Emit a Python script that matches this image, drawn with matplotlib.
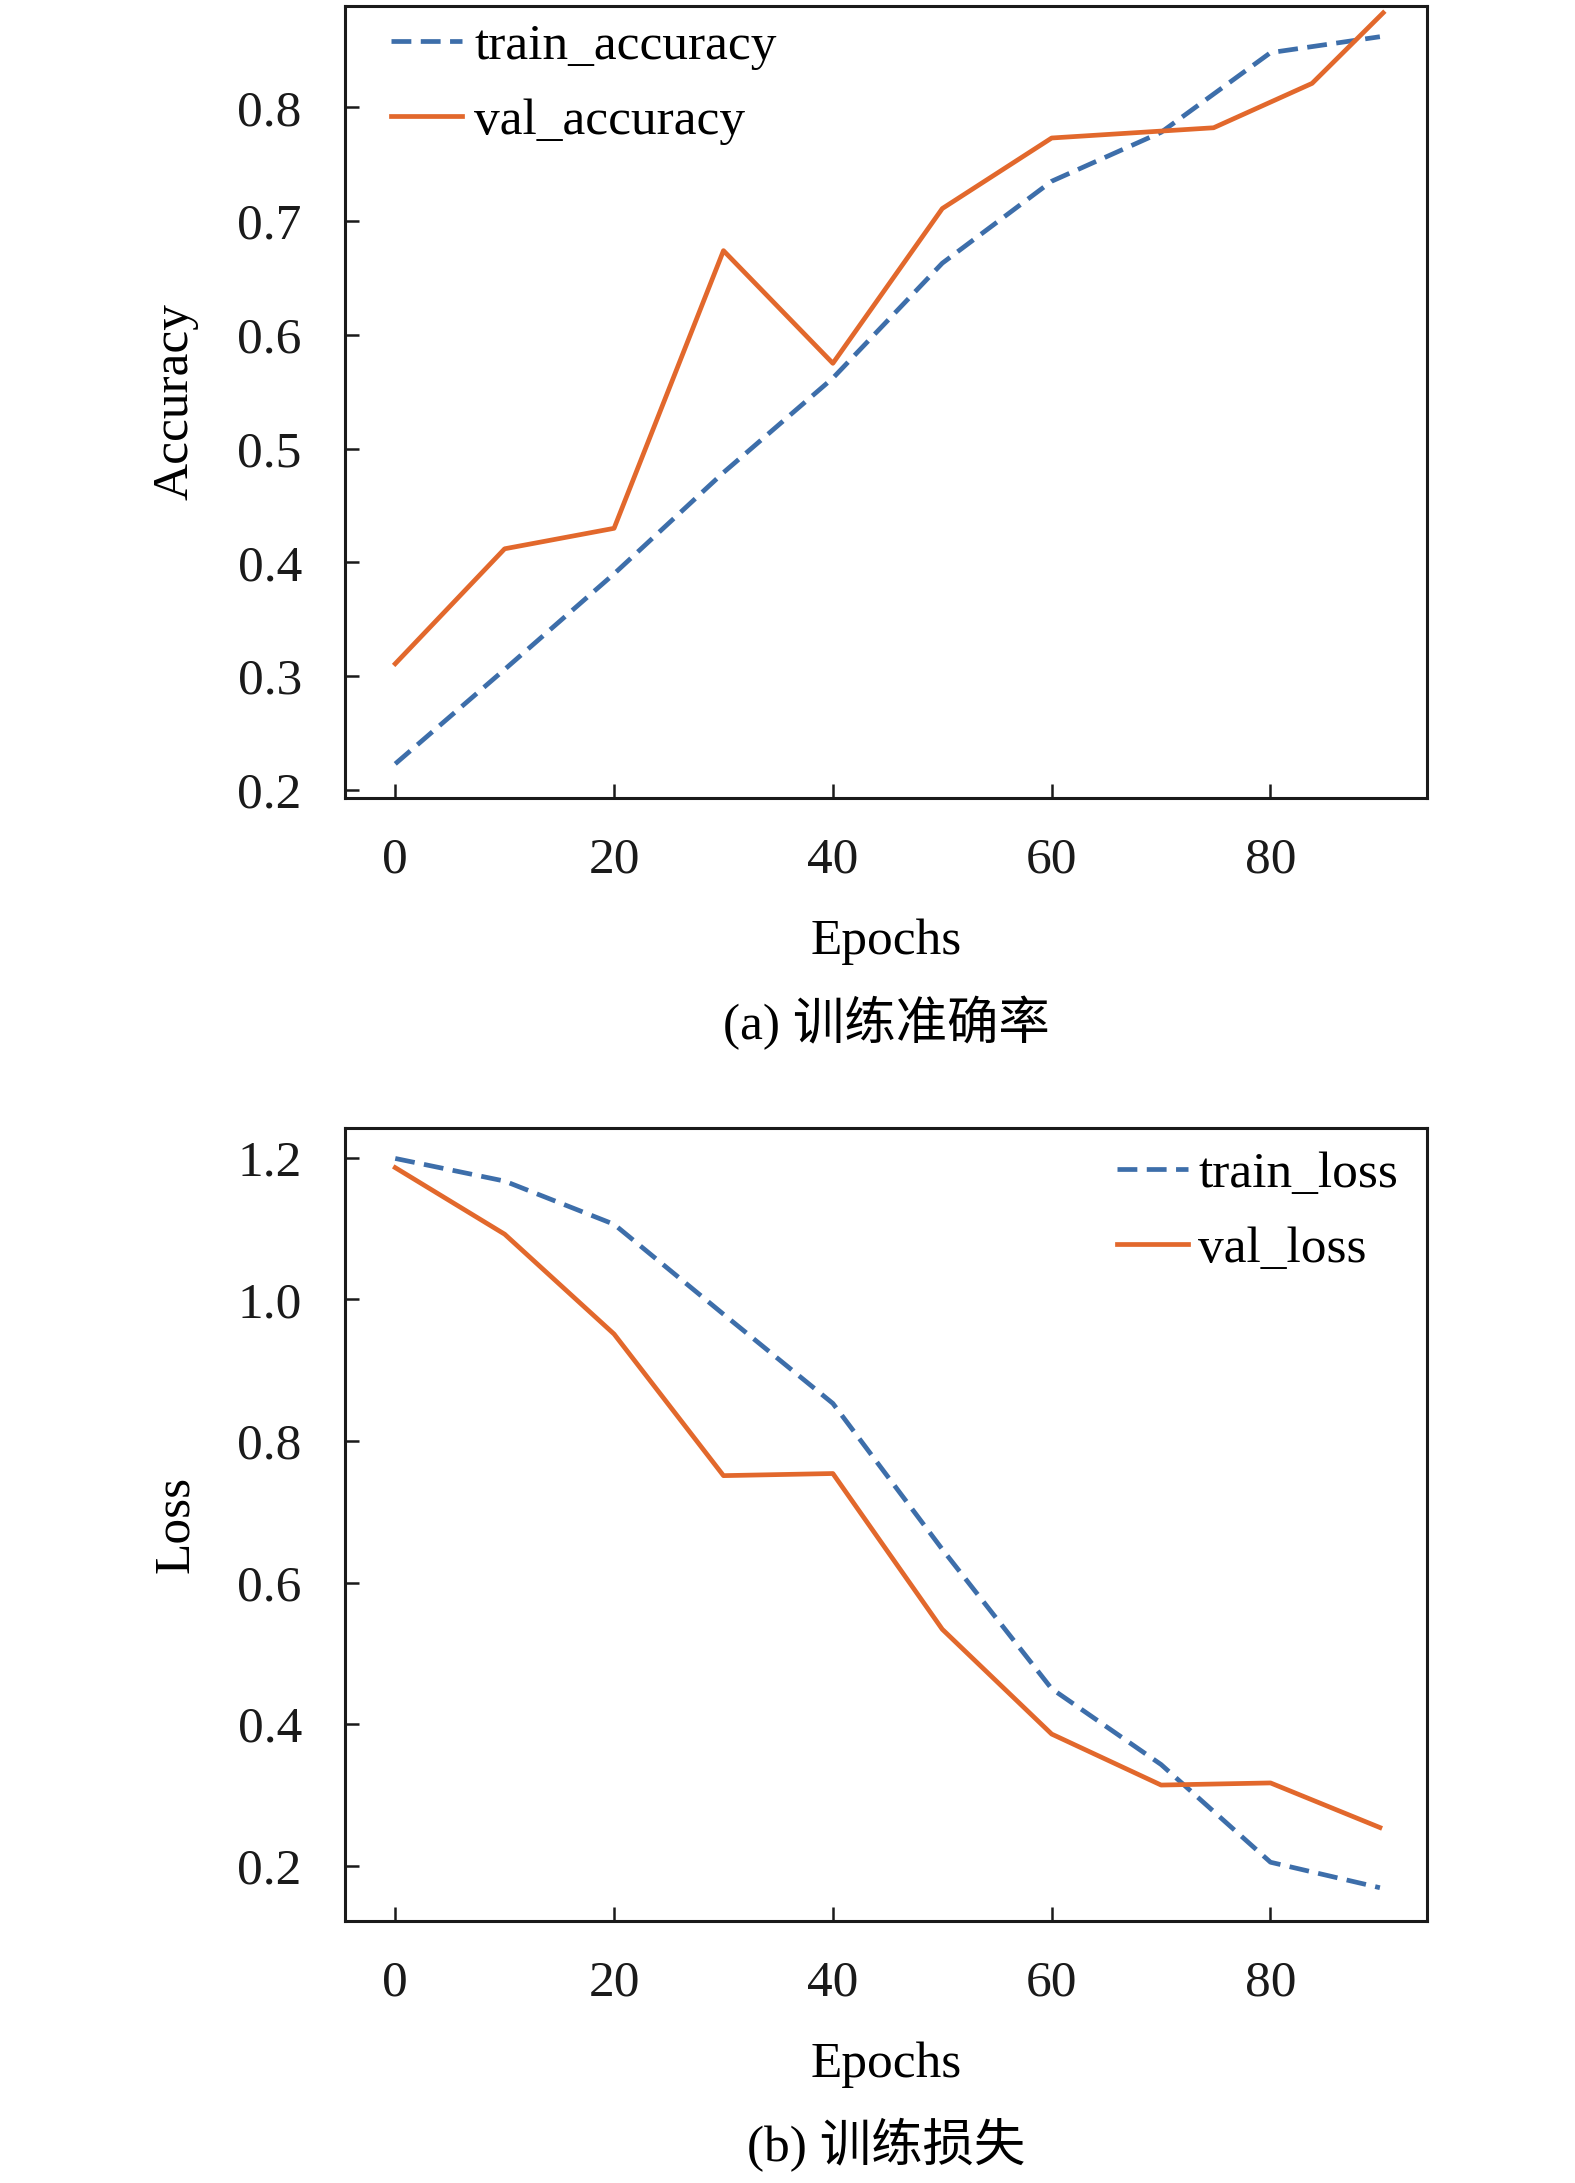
import numpy as np
import matplotlib
matplotlib.use("Agg")
import matplotlib.pyplot as plt

# 字体: 西文 Times 风格, 中文回退到 Noto CJK
plt.rcParams['font.family'] = ['Liberation Serif', 'Noto Sans CJK SC']
plt.rcParams['mathtext.fontset'] = 'stix'

# 数据
epochs = [0, 10, 20, 30, 40, 50, 60, 70, 80, 90]
train_accuracy = [0.223, 0.306, 0.390, 0.479, 0.562, 0.663, 0.735, 0.778, 0.848, 0.862]
val_acc_epochs = [0, 10, 20, 30, 40, 50, 60, 74.8, 83.8, 90.3]
val_accuracy = [0.311, 0.412, 0.430, 0.674, 0.575, 0.711, 0.773, 0.782, 0.821, 0.883]

train_loss = [1.199, 1.167, 1.106, 0.979, 0.853, 0.647, 0.450, 0.343, 0.205, 0.169]
val_loss = [1.186, 1.092, 0.951, 0.751, 0.754, 0.534, 0.386, 0.314, 0.317, 0.254]

acc_ticks = [0.2, 0.3, 0.4, 0.5, 0.6, 0.7, 0.8]
loss_ticks = [0.2, 0.4, 0.6, 0.8, 1.0, 1.2]
epoch_ticks = [0, 20, 40, 60, 80]

BLUE = '#3d6eaa'
ORANGE = '#e2682c'
FS = 37
LW = 3.4
DASH = (0, (4.2, 2))

fig = plt.figure(figsize=(15.75, 21.83), dpi=100)
ax1 = fig.add_axes([0.2190, 0.63445, 0.6870, 0.3628])
ax2 = fig.add_axes([0.2190, 0.12002, 0.6870, 0.36326])


def style_axes(ax):
    for s in ax.spines.values():
        s.set_linewidth(2.2)
        s.set_color('#1a1a1a')
    ax.tick_params(direction='in', length=10, width=1.8, labelsize=FS,
                   colors='#1a1a1a')
    ax.tick_params(axis='y', pad=31)
    ax.tick_params(axis='x', pad=28)
    ax.set_xlim(-4.6, 94.3)
    ax.set_xticks(epoch_ticks)


# (a) 准确率
ax1.plot(epochs, train_accuracy, color=BLUE, lw=LW, ls=DASH, label='train_accuracy')
ax1.plot(val_acc_epochs, val_accuracy, color=ORANGE, lw=LW, label='val_accuracy')
style_axes(ax1)
ax1.set_ylim(0.193, 0.889)
ax1.set_yticks(acc_ticks)
ax1.set_yticklabels(['%.1f' % v for v in acc_ticks])
ax1.set_ylabel('Accuracy', fontsize=FS)
ax1.yaxis.set_label_coords(-0.135, 0.5)
ax1.set_xlabel('Epochs', fontsize=FS)
ax1.xaxis.set_label_coords(0.5, -0.152)
ax1.legend(loc='upper left', bbox_to_anchor=(0.009, 1.024), frameon=False, fontsize=FS,
           handlelength=1.38, handletextpad=0.25, labelspacing=0.54, borderaxespad=0.3)

# (b) 损失
ax2.plot(epochs, train_loss, color=BLUE, lw=LW, ls=DASH, label='train_loss')
ax2.plot(epochs, val_loss, color=ORANGE, lw=LW, label='val_loss')
style_axes(ax2)
ax2.set_ylim(0.122, 1.242)
ax2.set_yticks(loss_ticks)
ax2.set_yticklabels(['%.1f' % v for v in loss_ticks])
ax2.set_ylabel('Loss', fontsize=FS)
ax2.yaxis.set_label_coords(-0.135, 0.5)
ax2.set_xlabel('Epochs', fontsize=FS)
ax2.xaxis.set_label_coords(0.5, -0.152)
ax2.legend(loc='upper right', bbox_to_anchor=(1.0065, 1.016), frameon=False, fontsize=FS,
           handlelength=1.38, handletextpad=0.2, labelspacing=0.54, borderaxespad=0.3)

# 图注
fig.text(0.5627, 1 - 1023 / 2183, '(a) 训练准确率', fontsize=FS, ha='center', va='center')
fig.text(0.5627, 1 - 2145 / 2183, '(b) 训练损失', fontsize=FS, ha='center', va='center')

fig.savefig('out.png', dpi=100)
